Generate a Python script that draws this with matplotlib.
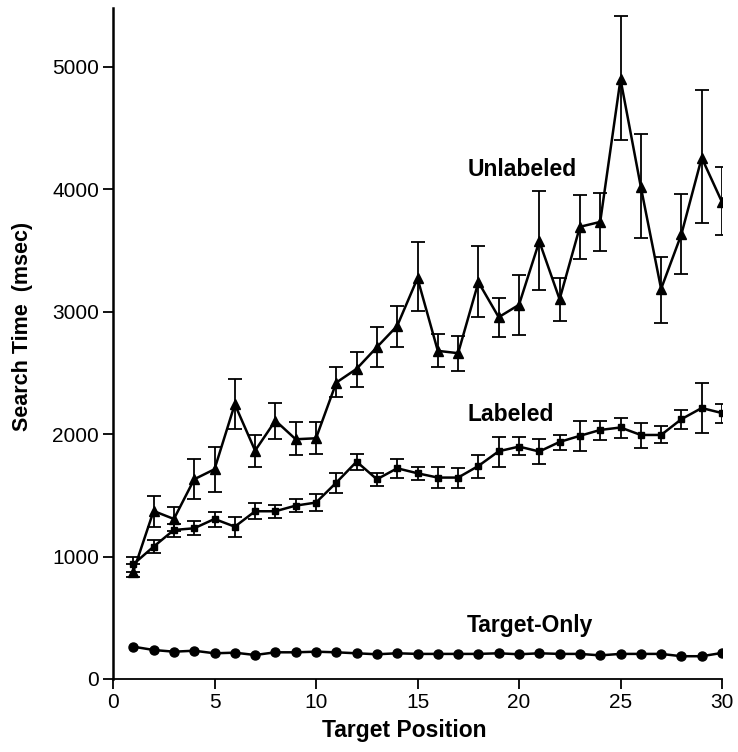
import numpy as np
import matplotlib
matplotlib.use("Agg")
import matplotlib.pyplot as plt

plt.rcParams['font.family'] = ['Liberation Sans', 'DejaVu Sans']

# target positions 1..30
positions = list(range(1, 31))

# Unlabeled condition (triangles): mean and error bar bounds, msec
unlabeled = [877, 1372, 1307, 1631, 1713, 2244, 1865, 2110, 1958, 1966,
             2421, 2533, 2710, 2884, 3273, 2680, 2661, 3241, 2955, 3056,
             3574, 3101, 3693, 3733, 4899, 4020, 3186, 3632, 4257, 3895]
unlabeled_hi = [940, 1497, 1408, 1795, 1898, 2451, 1993, 2252, 2100, 2100,
                2549, 2669, 2878, 3050, 3565, 2819, 2802, 3540, 3115, 3301,
                3986, 3277, 3953, 3970, 5411, 4453, 3446, 3963, 4810, 4180]
unlabeled_lo = [830, 1244, 1209, 1471, 1530, 2040, 1735, 1958, 1828, 1838,
                2301, 2383, 2547, 2710, 3007, 2547, 2519, 2960, 2797, 2810,
                3176, 2922, 3429, 3497, 4399, 3598, 2905, 3311, 3726, 3625]

# Labeled condition (squares)
labeled = [937, 1081, 1217, 1231, 1307, 1244, 1370, 1370, 1416, 1441,
           1604, 1775, 1631, 1721, 1680, 1645, 1645, 1740, 1860, 1898,
           1858, 1936, 1986, 2034, 2054, 1993, 1993, 2122, 2213, 2172]
labeled_hi = [999, 1136, 1266, 1294, 1362, 1321, 1438, 1421, 1468, 1509,
              1686, 1838, 1686, 1795, 1732, 1729, 1727, 1830, 1977, 1975,
              1959, 1993, 2111, 2111, 2135, 2088, 2068, 2196, 2416, 2247]
labeled_lo = [870, 1032, 1163, 1174, 1244, 1163, 1305, 1315, 1364, 1370,
              1517, 1707, 1580, 1645, 1626, 1558, 1561, 1645, 1729, 1830,
              1757, 1868, 1865, 1953, 1970, 1885, 1926, 2044, 2010, 2088]

# Target-only condition (circles)
target_only = [264, 237, 223, 231, 210, 215, 196, 218, 218, 223,
               218, 210, 202, 210, 205, 205, 205, 205, 210, 202,
               210, 205, 205, 193, 205, 205, 205, 186, 186, 213]

series_labels = ["Unlabeled", "Labeled", "Target-Only"]
label_pos = [(17.45, 4160), (17.45, 2160), (17.45, 440)]

fig = plt.figure(figsize=(7.38, 7.52), dpi=100)
ax = fig.add_axes([113 / 738, 1 - 679 / 752, 609 / 738, 671 / 752])

x = np.array(positions)
u = np.array(unlabeled)
l = np.array(labeled)
ax.errorbar(x, u, yerr=[u - np.array(unlabeled_lo), np.array(unlabeled_hi) - u],
            color='black', lw=1.8, marker='^', ms=7, ecolor='black',
            elinewidth=1.3, capsize=5, capthick=1.3, zorder=3)
ax.errorbar(x, l, yerr=[l - np.array(labeled_lo), np.array(labeled_hi) - l],
            color='black', lw=1.8, marker='s', ms=5, ecolor='black',
            elinewidth=1.3, capsize=5, capthick=1.3, zorder=3)
ax.plot(x, target_only, color='black', lw=1.8, marker='o', ms=6.5, zorder=3)

for text, (tx, ty) in zip(series_labels, label_pos):
    ax.text(tx, ty, text, fontsize=16.5, fontweight='bold', va='center', ha='left')

ax.set_xlim(0, 30)
ax.set_ylim(0, 5480)
ax.set_xticks([0, 5, 10, 15, 20, 25, 30])
ax.set_yticks([0, 1000, 2000, 3000, 4000, 5000])
ax.spines['top'].set_visible(False)
ax.spines['right'].set_visible(False)
ax.spines['left'].set_linewidth(1.8)
ax.spines['bottom'].set_linewidth(1.3)
ax.tick_params(axis='both', direction='out', length=7, width=1.3, labelsize=15, pad=3)

ax.set_xlabel('Target Position', fontsize=16.5, fontweight='bold')
ax.set_ylabel('Search Time  (msec)', fontsize=15.5, fontweight='bold')
ax.xaxis.set_label_coords(0.478, -0.06)
ax.yaxis.set_label_coords(-0.131, 0.526)

fig.savefig('out.png', dpi=100)
